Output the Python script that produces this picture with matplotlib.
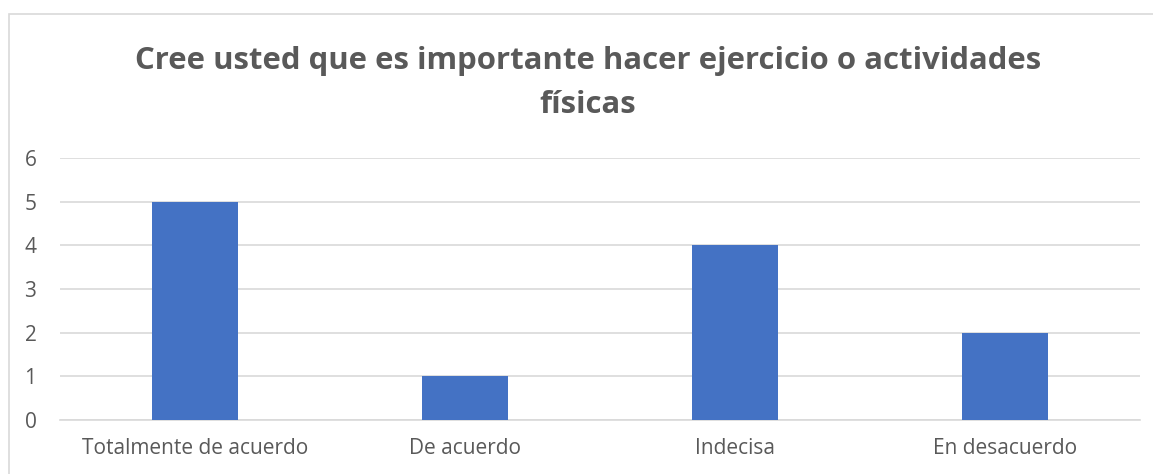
import matplotlib
matplotlib.use("Agg")
import matplotlib.pyplot as plt
from matplotlib.patches import Rectangle

categories = ["Totalmente de acuerdo", "De acuerdo", "Indecisa", "En desacuerdo"]
values = [5, 1, 4, 2]
yticks = [0, 1, 2, 3, 4, 5, 6]

TITLE = "Cree usted que es importante hacer ejercicio o actividades\nfísicas"
BAR_COLOR = "#4472C4"
TEXT_COLOR = "#595959"
GRID_COLOR = "#D9D9D9"

plt.rcParams["font.family"] = ["Open Sans", "DejaVu Sans"]

W, H = 1153, 474
fig = plt.figure(figsize=(W / 100, H / 100), dpi=100)

# chart frame (runs off the right/bottom edge like the source)
fig.patches.append(Rectangle((9 / W, -0.1), 1.2, 1 - 14 / H + 0.1,
                             transform=fig.transFigure, fill=False,
                             edgecolor="#D9D9D9", linewidth=1.2))

ax = fig.add_axes([60 / W, (H - 420) / H, (1140 - 60) / W, (420 - 158) / H])
x = range(len(categories))
ax.bar(x, values, width=0.315, color=BAR_COLOR, zorder=3)
ax.set_xlim(-0.5, len(categories) - 0.5)
ax.set_ylim(0, 6)
ax.set_yticks(yticks)
ax.set_xticks(list(x))
ax.set_xticklabels(categories)
ax.grid(axis="y", color=GRID_COLOR, linewidth=1.2, zorder=0)
for s in ["top", "right", "left"]:
    ax.spines[s].set_visible(False)
ax.spines["bottom"].set_color(GRID_COLOR)
ax.spines["bottom"].set_linewidth(1.2)
ax.tick_params(length=0, labelcolor=TEXT_COLOR, labelsize=15)
ax.tick_params(axis="y", pad=17)
ax.tick_params(axis="x", pad=13)

fig.text(588 / W, 1 - 83 / H, TITLE, ha="center", va="center",
         fontsize=22.4, fontweight="bold", color=TEXT_COLOR, linespacing=1.6)

fig.savefig("out.png", dpi=100)
